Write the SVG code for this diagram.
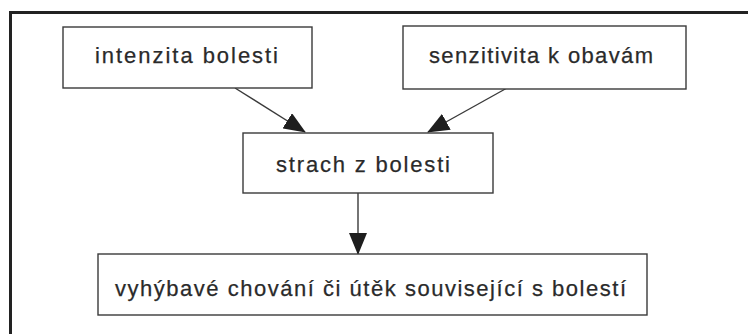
<svg xmlns="http://www.w3.org/2000/svg" width="748" height="334" viewBox="0 0 748 334">
<defs>
<style>
.box{fill:#fff;stroke:#3a3a3a;stroke-width:1.4}
.lbl{font-family:"Liberation Sans",Arial,sans-serif;font-size:22px;fill:#2a2a2a;stroke:#2a2a2a;stroke-width:0.25}
.con{stroke:#3a3a3a;stroke-width:1.4;fill:none}
</style>
<marker id="ah" markerUnits="userSpaceOnUse" markerWidth="22" markerHeight="18" viewBox="0 0 22 18" refX="21" refY="9" orient="auto">
<polygon points="0,0 22,9 0,18" fill="#1e1e1e"/>
</marker>
</defs>
<rect x="0" y="0" width="748" height="334" fill="#fff"/>
<path d="M10.5,334 V12.5 H748" fill="none" stroke="#222" stroke-width="3"/>
<g id="connectors">
<line class="con" x1="235" y1="88" x2="305" y2="132" marker-end="url(#ah)"/>
<line class="con" x1="507" y1="88" x2="428" y2="132" marker-end="url(#ah)"/>
<line class="con" x1="358" y1="193" x2="358" y2="254" marker-end="url(#ah)"/>
</g>
<g id="n1">
<rect class="box" x="63" y="27" width="249" height="61"/>
<text class="lbl" x="95" y="63" textLength="183" lengthAdjust="spacing">intenzita bolesti</text>
</g>
<g id="n2">
<rect class="box" x="403" y="26" width="283" height="63"/>
<text class="lbl" x="429" y="63" textLength="224" lengthAdjust="spacing">senzitivita k obavám</text>
</g>
<g id="n3">
<rect class="box" x="243" y="133" width="250" height="60"/>
<text class="lbl" x="276" y="172" textLength="174" lengthAdjust="spacing">strach z bolesti</text>
</g>
<g id="n4">
<rect class="box" x="98" y="254" width="549" height="61"/>
<text class="lbl" x="115" y="296" textLength="511" lengthAdjust="spacing">vyhýbavé chování či útěk související s bolestí</text>
</g>
</svg>
